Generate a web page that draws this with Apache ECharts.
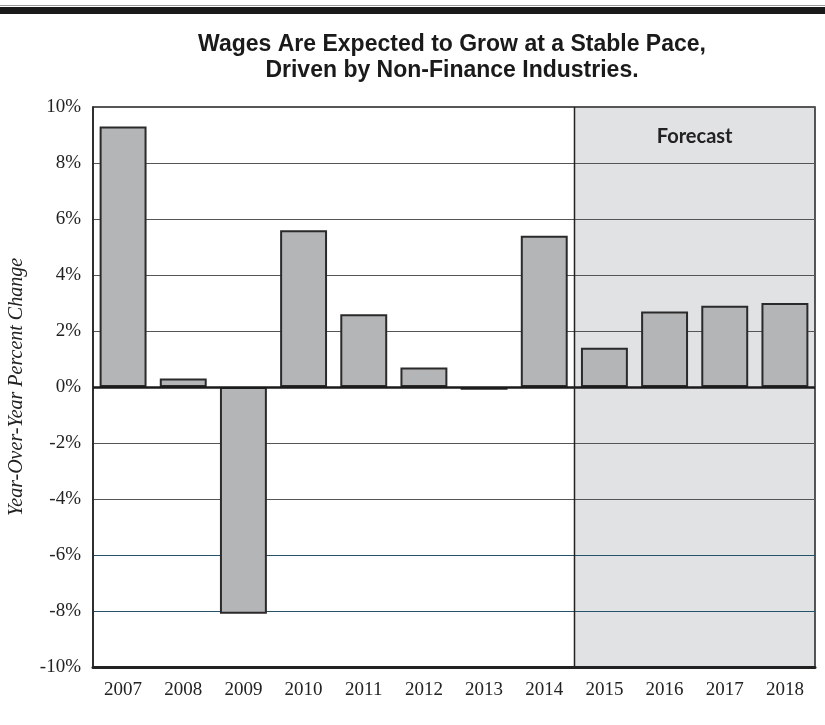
<!DOCTYPE html>
<html>
<head>
<meta charset="utf-8">
<script src="https://cdn.jsdelivr.net/npm/echarts@6/dist/echarts.min.js"></script>
<style>
html,body{margin:0;padding:0;background:#fff;}
#chart{width:825px;height:725px;}
</style>
</head>
<body>
<div id="chart"></div>
<script>
const titleLines = ['Wages Are Expected to Grow at a Stable Pace,', 'Driven by Non-Finance Industries.'];
const yAxisName = 'Year-Over-Year Percent Change';
const forecastLabel = 'Forecast';
const categories = ['2007','2008','2009','2010','2011','2012','2013','2014','2015','2016','2017','2018'];
const wageGrowth = [9.3, 0.3, -8.1, 5.6, 2.6, 0.7, -0.1, 5.4, 1.4, 2.7, 2.9, 3.0];
const forecastStart = '2015';
const forecastEnd = '2018';
const yTicks = [-10, -8, -6, -4, -2, 0, 2, 4, 6, 8, 10];

const chart = echarts.init(document.getElementById('chart'), null, {renderer: 'canvas'});
const serif = '"Liberation Serif", "DejaVu Serif", serif';
const sans = '"Liberation Sans", Arial, sans-serif';

const gridColors = yTicks.map(v => (v === -8 || v === -6) ? '#24536a' : '#555555');

const option = {
  animation: false,
  backgroundColor: '#ffffff',
  graphic: [
    {type: 'rect', left: 0, top: 7, shape: {width: 825, height: 7}, style: {fill: '#1a1a1a'}},
    {type: 'rect', left: 0, top: 5, shape: {width: 825, height: 1}, style: {fill: '#999'}}
  ],
  title: {
    text: titleLines.join('\n'),
    left: 452,
    top: 32,
    padding: 0,
    textAlign: 'center',
    textStyle: {fontFamily: sans, fontWeight: 'bold', fontSize: 23, lineHeight: 26, color: '#1a1a1a'}
  },
  grid: {left: 93, right: 10, top: 107, bottom: 58, show: true, borderColor: '#222', borderWidth: 1.5, backgroundColor: 'transparent', containLabel: false, outerBoundsMode: 'none'},
  xAxis: {
    type: 'category',
    data: categories,
    axisLine: {onZero: false, lineStyle: {color: '#222', width: 3}},
    axisTick: {show: false},
    axisLabel: {fontFamily: serif, fontSize: 19, color: '#222', margin: 14}
  },
  yAxis: {
    type: 'value',
    min: -10, max: 10, interval: 2,
    name: yAxisName,
    nameLocation: 'middle',
    nameGap: 66,
    nameTextStyle: {fontFamily: serif, fontStyle: 'italic', fontSize: 20, color: '#222'},
    axisLine: {show: true, lineStyle: {color: '#222', width: 1.5}},
    axisTick: {show: false},
    axisLabel: {fontFamily: serif, fontSize: 19, color: '#222', margin: 12, formatter: v => v + '%'},
    splitLine: {show: true, lineStyle: {color: gridColors, width: 1.2}}
  },
  series: [
    {
      type: 'custom',
      z: -1,
      silent: true,
      data: [[categories.indexOf(forecastStart), categories.indexOf(forecastEnd)]],
      renderItem: function (params, api) {
        const s = api.value(0), e = api.value(1);
        const bw = api.size([1, 0])[0];
        const p0 = api.coord([s, 10]);
        const p1 = api.coord([e, -10]);
        const x0 = p0[0] - bw / 2, x1 = p1[0] + bw / 2;
        return {
          type: 'group',
          children: [
            {type: 'rect', shape: {x: x0, y: p0[1], width: x1 - x0, height: p1[1] - p0[1]}, style: {fill: '#e1e2e4'}},
            {type: 'text', style: {x: (x0 + x1) / 2, y: p0[1] + 30, text: forecastLabel, textAlign: 'center', textVerticalAlign: 'middle', font: 'bold 20px Lato, "Open Sans", sans-serif', fill: '#222'}}
          ]
        };
      }
    },
    {
      type: 'custom',
      z: 5,
      silent: true,
      data: [[categories.indexOf(forecastStart)]],
      renderItem: function (params, api) {
        const s = api.value(0);
        const bw = api.size([1, 0])[0];
        const p0 = api.coord([s, 10]);
        const p1 = api.coord([s, -10]);
        const x = Math.round(p0[0] - bw / 2) + 0.5;
        return {type: 'line', shape: {x1: x, y1: p0[1], x2: x, y2: p1[1]}, style: {stroke: '#222', lineWidth: 1.5}};
      }
    },
    {
      type: 'bar',
      data: wageGrowth,
      barCategoryGap: '22%',
      itemStyle: {color: '#b4b5b7', borderColor: '#2a2a2a', borderWidth: 2},
      markLine: {
        silent: true,
        symbol: 'none',
        label: {show: false},
        lineStyle: {color: '#1a1a1a', width: 2.5, type: 'solid'},
        data: [{yAxis: 0}]
      }
    }
  ]
};
chart.setOption(option);
</script>
</body>
</html>
